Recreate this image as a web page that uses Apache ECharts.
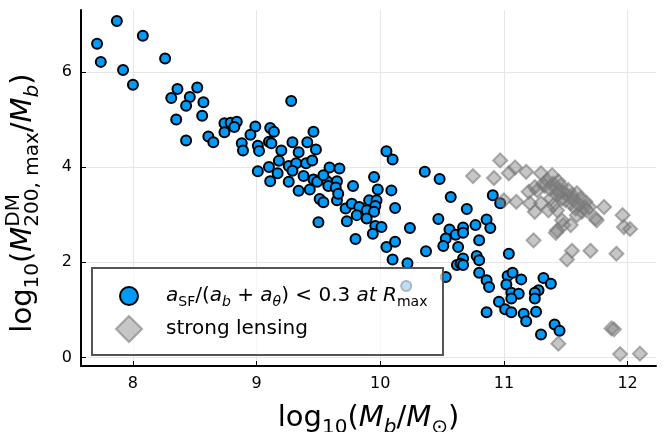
<!DOCTYPE html>
<html><head><meta charset="utf-8">
<script src="https://cdn.jsdelivr.net/npm/echarts@6/dist/echarts.min.js"></script>
<style>html,body{margin:0;padding:0;background:#fff}#c{width:666px;height:432px}</style>
</head><body><div id="c"></div>
<script>
const xTicks = [8, 9, 10, 11, 12];
const yTicks = [0, 2, 4, 6];
const seriesNames = ['sfRatio', 'strong lensing'];

// log10(Mb/Msun), log10(M200max/Mb) for galaxies with aSF/(ab+aθ) < 0.3 at Rmax
const sfData = [
[7.87,7.07],[7.71,6.59],[7.74,6.21],[8.08,6.76],[7.92,6.04],[8.00,5.73],[8.26,6.28],[8.36,5.64],[8.31,5.45],
[8.52,5.67],[8.46,5.47],[8.43,5.29],[8.57,5.36],[8.56,5.08],[8.35,5.00],[8.43,4.56],[8.61,4.64],[8.65,4.52],
[8.74,4.92],[8.79,4.93],[8.84,4.95],[8.74,4.73],[8.82,4.84],[8.99,4.85],[8.95,4.68],[8.88,4.50],[8.89,4.35],
[9.01,4.45],[9.02,4.34],[9.11,4.82],[9.14,4.74],[9.10,4.53],[9.12,4.50],[9.01,3.91],[9.10,4.00],[9.20,4.35],
[9.17,3.87],[9.28,5.39],[9.46,4.74],[9.29,4.52],[9.41,4.52],[9.34,4.31],[9.48,4.37],[10.05,4.33],[10.10,4.16],
[9.18,4.13],[9.26,4.02],[9.32,4.08],[9.40,4.08],[9.45,4.14],[9.29,3.92],[9.38,3.81],[9.59,3.99],[9.67,3.97],
[9.11,3.70],[9.26,3.69],[9.46,3.74],[9.49,3.69],[9.57,3.70],[9.65,3.70],[9.54,3.83],[9.34,3.50],[9.43,3.53],
[9.58,3.60],[9.64,3.57],[9.78,3.60],[9.95,3.79],[9.98,3.53],[10.09,3.51],[10.36,3.90],[10.48,3.75],[10.57,3.37],
[9.51,3.33],[9.54,3.26],[9.65,3.30],[9.66,3.44],[9.72,3.13],[9.77,3.23],[9.83,3.16],[9.91,3.30],[9.97,3.30],[9.96,3.18],
[9.89,3.09],[9.95,3.06],[9.81,2.99],[9.89,2.92],[10.12,3.14],[9.50,2.84],[9.73,2.86],[9.96,2.76],[10.01,2.74],
[10.24,2.72],[9.80,2.49],[9.94,2.60],[10.05,2.32],[10.12,2.43],[10.10,2.06],[10.22,1.98],[10.37,2.23],[10.47,2.91],
[10.56,2.69],[10.53,2.50],[10.51,2.34],[10.61,2.58],[10.63,2.32],[10.62,1.94],[10.53,1.69],[10.21,1.50],
[10.91,3.41],[10.97,3.24],[10.70,3.12],[10.86,2.90],[10.89,2.72],[10.77,2.78],[10.67,2.73],[10.67,2.62],[10.80,2.46],
[11.04,2.18],[10.78,2.13],[10.80,2.04],[10.67,2.08],[10.65,1.97],[10.67,1.94],[10.80,1.78],[10.86,1.62],[10.88,1.48],
[11.03,1.71],[11.07,1.78],[11.14,1.64],[11.02,1.53],[11.06,1.36],[11.12,1.34],[11.06,1.24],[11.32,1.67],[11.38,1.55],
[11.28,1.41],[11.25,1.36],[11.25,1.24],[10.96,1.17],[11.01,1.01],[11.06,0.95],[10.86,0.95],[11.16,0.92],[11.18,0.76],
[11.26,0.96],[11.41,0.69],[11.45,0.56],[11.30,0.48]
];

// strong lensing systems
const slData = [
[10.97,4.14],[10.75,3.81],[10.92,3.77],[11.04,3.87],[11.09,3.99],[11.18,3.90],[11.30,3.87],[11.39,3.83],[11.00,3.30],
[11.10,3.27],[11.20,3.48],[11.21,3.24],[11.25,3.06],[11.24,2.46],[11.43,3.09],[11.42,2.62],[11.48,2.78],[11.54,2.78],
[11.55,2.24],[11.51,2.06],[11.70,2.24],[11.74,2.92],[11.81,3.16],[11.91,2.18],[11.96,2.99],[11.97,2.74],[12.02,2.70],
[11.44,0.29],[11.87,0.61],[11.89,0.59],[11.94,0.07],[12.10,0.08],
[11.25,3.58],[11.27,3.51],[11.32,3.65],[11.35,3.72],[11.40,3.65],[11.42,3.55],[11.46,3.62],[11.48,3.48],[11.51,3.41],
[11.47,3.34],[11.43,3.41],[11.55,3.41],[11.59,3.45],[11.62,3.34],[11.66,3.27],[11.69,3.16],[11.54,3.24],[11.58,3.13],
[11.63,3.06],[11.59,2.99],[11.65,3.16],[11.67,3.09],[11.75,2.88],[11.38,3.34],[11.40,3.20],[11.36,3.09],[11.30,3.24],
[11.47,2.88],[11.43,2.67],[11.33,3.60],[11.37,3.55],[11.45,3.50],[11.50,3.30],[11.56,3.32],[11.60,3.22],[11.52,3.52],[11.44,3.70]
];

const FF = 'DejaVu Sans';
const chart = echarts.init(document.getElementById('c'), null, {renderer: 'canvas'});

function mkRich(main, sub, lh) {
  return {
    n: {fontFamily: FF, fontSize: main, lineHeight: lh, align: 'left', color: '#000'},
    i: {fontFamily: FF, fontSize: main, lineHeight: lh, align: 'left', fontStyle: 'italic', color: '#000'},
    s: {fontFamily: FF, fontSize: sub, lineHeight: sub + 1, align: 'left', verticalAlign: 'bottom', color: '#000'},
    si: {fontFamily: FF, fontSize: sub, lineHeight: sub + 1, align: 'left', verticalAlign: 'bottom', fontStyle: 'italic', color: '#000'},
    sup: {fontFamily: FF, fontSize: sub, lineHeight: sub + 1, align: 'left', verticalAlign: 'top', width: 0.01, color: '#000'}
  };
}
const axisRich = mkRich(29, 20, 39);
const legRich = {
  n: {fontFamily: FF, fontSize: 20, lineHeight: 26, color: '#000'},
  i: {fontFamily: FF, fontSize: 20, lineHeight: 26, fontStyle: 'italic', color: '#000'},
  s: {fontFamily: FF, fontSize: 14, lineHeight: 14, verticalAlign: 'bottom', color: '#000'},
  si: {fontFamily: FF, fontSize: 14, lineHeight: 14, verticalAlign: 'bottom', fontStyle: 'italic', color: '#000'}
};
const legendLabel = {
  'sfRatio': '{i|a}{s|SF}{n|/(}{i|a}{si|b}{n| + }{i|a}{si|θ}{n|) < 0.3 }{i|at}{n| }{i|R}{s|max}',
  'strong lensing': '{n|strong lensing}'
};

const option = {
  animation: false,
  backgroundColor: '#fff',
  grid: {left: 81, right: 10, top: 10, bottom: 66, containLabel: false, outerBoundsMode: 'none'},
  xAxis: {
    type: 'value', min: 7.58, max: 12.23,
    name: '{n|log}{s|10}{n|(}{i|M}{si|b}{n|/}{i|M}{s|⊙}{n|)}',
    nameLocation: 'middle', nameGap: 33,
    nameTextStyle: {rich: axisRich},
    axisLine: {show: true, onZero: false, lineStyle: {color: '#000', width: 2}},
    axisTick: {show: true, inside: true, length: 5, customValues: xTicks, lineStyle: {color: '#000', width: 1}},
    axisLabel: {customValues: xTicks, margin: 10, fontFamily: FF, fontSize: 16, color: '#000'},
    splitLine: {show: true, lineStyle: {color: '#e6e6e6', width: 1}}
  },
  yAxis: {
    type: 'value', min: -0.18, max: 7.3,
    name: '{n|log}{s|10}{n|(}{i|M}{sup|DM}{s|200, max}{n|/}{i|M}{si|b}{n|)}',
    nameLocation: 'middle', nameGap: 38, nameRotate: 90,
    nameTextStyle: {rich: axisRich, padding: [0, 30, 0, 0]},
    axisLine: {show: true, onZero: false, lineStyle: {color: '#000', width: 2}},
    axisTick: {show: true, inside: true, length: 5, customValues: yTicks, lineStyle: {color: '#000', width: 1}},
    axisLabel: {customValues: yTicks, margin: 9, fontFamily: FF, fontSize: 16, color: '#000'},
    splitLine: {show: true, lineStyle: {color: '#e6e6e6', width: 1}}
  },
  legend: [
    {
      data: [seriesNames[0]], orient: 'vertical', left: 119, top: 286, padding: 0,
      itemWidth: 64, itemHeight: 18, selectedMode: false, z: 5,
      formatter: function (name) { return legendLabel[name]; },
      textStyle: {rich: legRich}
    },
    {
      data: [seriesNames[1]], orient: 'vertical', left: 115, top: 315, padding: 0,
      itemWidth: 26, itemHeight: 26, selectedMode: false, z: 5,
      formatter: function (name) { return legendLabel[name]; },
      textStyle: {rich: legRich, padding: [0, 0, 0, 19]}
    }
  ],
  graphic: [{
    type: 'rect', z: 3, silent: true,
    shape: {x: 92, y: 268, width: 351, height: 87},
    style: {fill: 'rgba(255,255,255,0.7)', stroke: '#555', lineWidth: 2}
  }],
  series: [
    {
      name: seriesNames[0], type: 'scatter', data: sfData, symbol: 'circle', symbolSize: 10,
      itemStyle: {color: '#009AFA', borderColor: '#000', borderWidth: 2, opacity: 1},
      emphasis: {disabled: true}, z: 2
    },
    {
      name: seriesNames[1], type: 'scatter', data: slData, symbol: 'diamond', symbolSize: 14,
      itemStyle: {color: 'rgba(128,128,128,0.45)', borderColor: 'rgba(120,120,120,0.6)', borderWidth: 2, opacity: 1},
      emphasis: {disabled: true}, z: 2
    }
  ]
};
chart.setOption(option);
</script>
</body></html>
